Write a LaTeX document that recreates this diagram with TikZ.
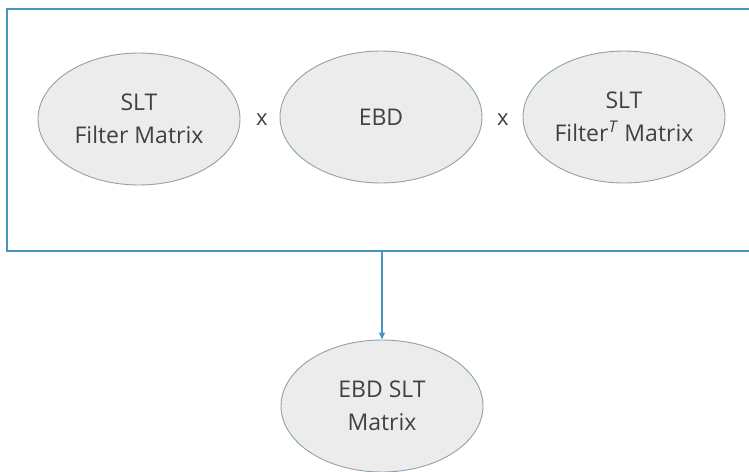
\documentclass[tikz,border=0pt]{standalone}
\usepackage{fontspec}
\setmainfont{Open Sans}
\usetikzlibrary{shapes.geometric,arrows.meta}
\definecolor{framec}{RGB}{72,150,190}
\definecolor{ellfill}{RGB}{236,236,236}
\definecolor{elldraw}{RGB}{140,162,176}
\definecolor{txt}{RGB}{65,65,65}
\tikzset{
  oval/.style={ellipse, draw=elldraw, fill=ellfill, line width=0.9pt,
    minimum width=202pt, minimum height=132pt, inner sep=0pt, align=center,
    font=\fontsize{23}{33}\selectfont, text=txt},
  times/.style={font=\fontsize{22}{24}\selectfont, text=txt},
  frame/.style={draw=framec, line width=1.6pt},
  link/.style={draw=framec, line width=1.2pt, -{Triangle[length=7pt,width=6pt]}}
}
\begin{document}
\begin{tikzpicture}[x=1pt,y=-1pt]
\useasboundingbox (0,0) rectangle (749,471);
\node[frame, minimum width=760pt, minimum height=242pt, anchor=north west, inner sep=0pt] (box) at (6,8) {};
\node[oval] (f) at (139,119) {SLT\\Filter Matrix};
\node[oval] (e) at (381,117) {EBD};
\node[oval] (ft) at (624,117) {SLT\\Filter\textsuperscript{\textit{T}} Matrix};
\node[times] (x1) at (262,120) {x};
\node[times] (x2) at (503,120) {x};
\node[oval] (out) at (382,406) {EBD SLT\\Matrix};
\draw[link] (out.north |- box.south) -- (out.north);
\end{tikzpicture}
\end{document}
